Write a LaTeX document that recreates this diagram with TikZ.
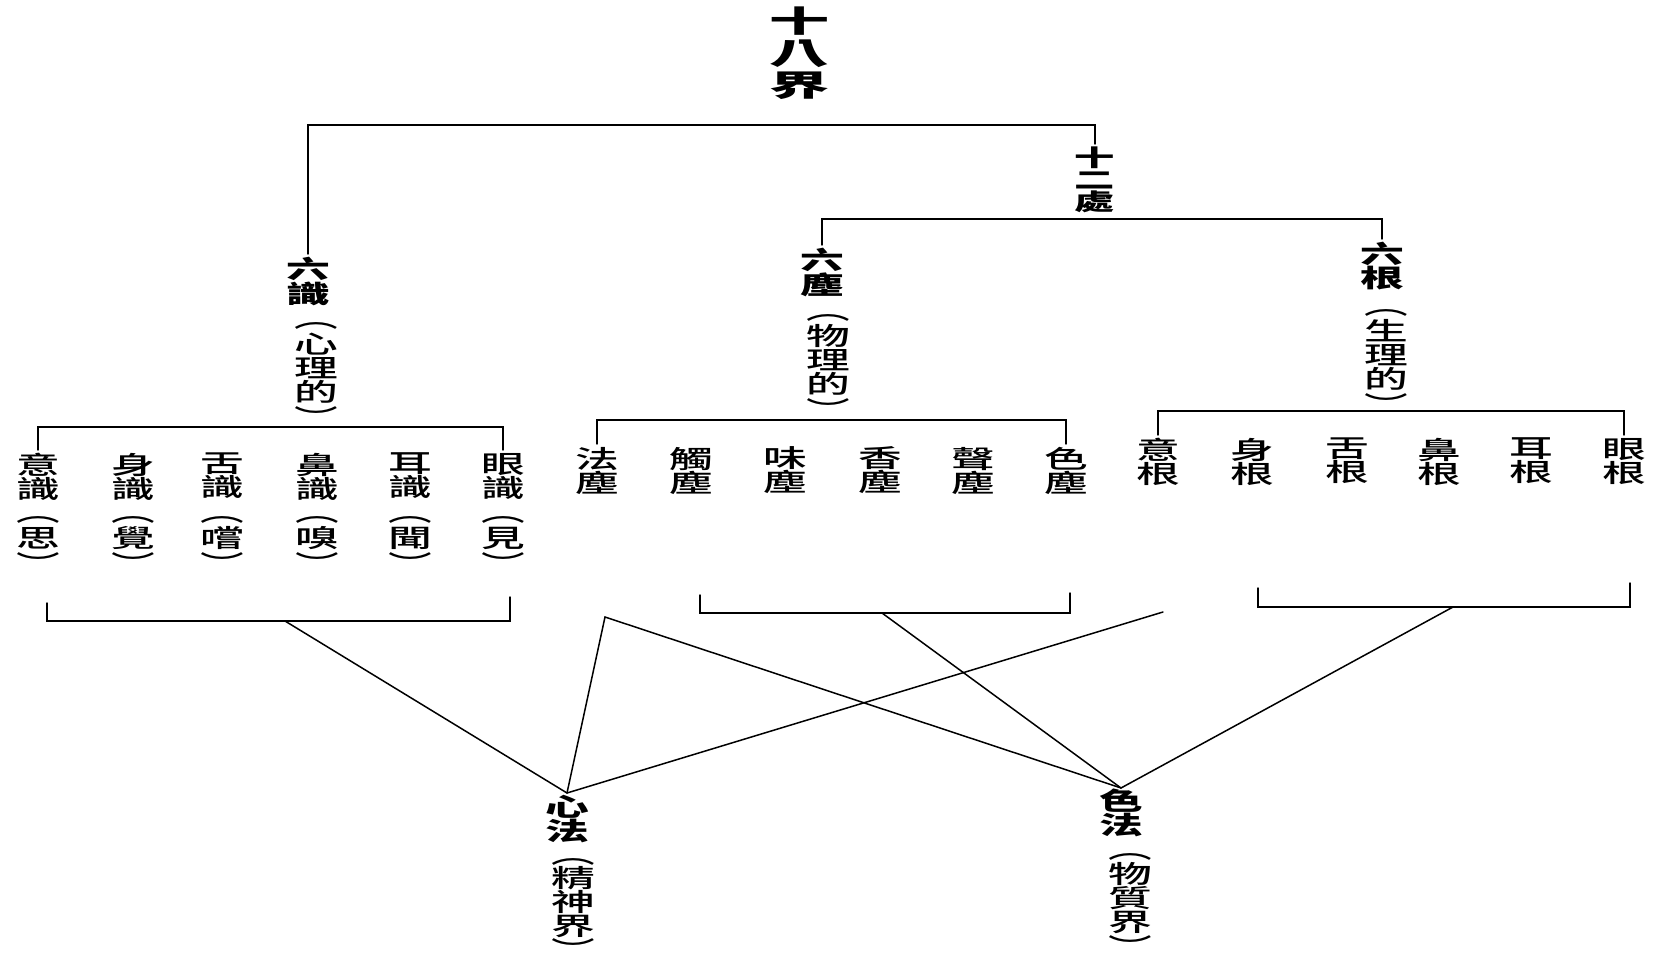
\documentclass[tikz,border=0pt]{standalone}
\usepackage{fontspec}
\newfontfamily\cjk[FakeStretch=1.75, UprightFont={* Medium}]{Noto Sans CJK TC}
\newfontfamily\cjkb[FakeStretch=1.75]{Noto Sans CJK TC}
\newfontfamily\cjkbig[FakeStretch=2.0]{Noto Sans CJK TC}
\newcommand{\pgrp}[2][2pt]{︵\\[#1]#2\\[#1]︶}
\begin{document}
\begin{tikzpicture}[x=1pt,y=-1pt,
  lbl/.style={font=\cjk\fontsize{25}{24}\selectfont, align=center, inner sep=0pt, outer sep=3pt, anchor=north},
  head/.style={lbl, font=\cjkb\bfseries\fontsize{25}{23}\selectfont},
  wire/.style={line width=1.5pt, line cap=round, line join=miter}]
\useasboundingbox (0,0) rectangle (1655,957);
\fill[white] (0,0) rectangle (1655,957);

% top levels
\node[lbl, font=\cjkbig\bfseries\fontsize{30}{32}\selectfont] (n18) at (799,4) {十\\八\\界};
\node[head, font=\cjkb\bfseries\fontsize{23}{22}\selectfont] (n12) at (1095,144) {十\\二\\處};
\node[head] (ls) at (308,254) {六\\識};
\node[lbl] (lsp) at (316,320) {\pgrp{心\\理\\的}};
\node[head] (lc) at (822,245) {六\\塵};
\node[lbl] (lcp) at (828,312) {\pgrp{物\\理\\的}};
\node[head] (lg) at (1382,239) {六\\根};
\node[lbl] (lgp) at (1386,307) {\pgrp{生\\理\\的}};

\coordinate (cA) at (700,125);
\coordinate (cB) at (1100,219);
\draw[wire] (ls.north) |- (cA) -| (n12.north);
\draw[wire] (lc.north) |- (cB) -| (lg.north);

% six consciousnesses
\node[lbl] (s1) at (38,450) {意\\識};
\node[lbl] (s2) at (133,450) {身\\識};
\node[lbl] (s3) at (222,450) {舌\\識};
\node[lbl] (s4) at (317,450) {鼻\\識};
\node[lbl] (s5) at (410,450) {耳\\識};
\node[lbl] (s6) at (503,450) {眼\\識};
\node[lbl] (p1) at (38,514) {\pgrp{思}};
\node[lbl] (p2) at (133,514) {\pgrp{覺}};
\node[lbl] (p3) at (222,514) {\pgrp{嚐}};
\node[lbl] (p4) at (317,514) {\pgrp{嗅}};
\node[lbl] (p5) at (410,514) {\pgrp{聞}};
\node[lbl] (p6) at (503,514) {\pgrp{見}};
\coordinate (cS) at (300,427);
\draw[wire] (s1.north) |- (cS) -| (s6.north);

% six objects
\node[lbl] (c1) at (597,444) {法\\塵};
\node[lbl] (c2) at (691,444) {觸\\塵};
\node[lbl] (c3) at (785,444) {味\\塵};
\node[lbl] (c4) at (880,444) {香\\塵};
\node[lbl] (c5) at (973,444) {聲\\塵};
\node[lbl] (c6) at (1066,444) {色\\塵};
\coordinate (cC) at (800,420);
\draw[wire] (c1.north) |- (cC) -| (c6.north);

% six roots
\node[lbl] (g1) at (1158,435) {意\\根};
\node[lbl] (g2) at (1252,435) {身\\根};
\node[lbl] (g3) at (1347,435) {舌\\根};
\node[lbl] (g4) at (1439,435) {鼻\\根};
\node[lbl] (g5) at (1531,435) {耳\\根};
\node[lbl] (g6) at (1624,435) {眼\\根};
\coordinate (cG) at (1400,411);
\draw[wire] (g1.north) |- (cG) -| (g6.north);

% bottom
\node[head, outer sep=0pt, inner ysep=2pt] (xf) at (567,793) {心\\法};
\node[lbl] (xfp) at (573,856) {\pgrp[0pt]{精\\神\\界}};
\node[head, outer sep=0pt, inner ysep=1pt] (sf) at (1121,788) {色\\法};
\node[lbl] (sfp) at (1130,851) {\pgrp[1pt]{物\\質\\界}};

\coordinate (b1l) at (47,603);
\coordinate (b1m) at (285,621);
\coordinate (b1r) at (510,597);
\coordinate (b2l) at (700,595);
\coordinate (b2m) at (882,613);
\coordinate (b2r) at (1070,593);
\coordinate (b3l) at (1258,588);
\coordinate (b3m) at (1453,607);
\coordinate (b3r) at (1630,583);
\coordinate (peak) at (605,617);
\coordinate (free) at (1163,612);

\draw[wire] (b1l) |- (b1m) -| (b1r);
\draw[wire] (b2l) |- (b2m) -| (b2r);
\draw[wire] (b3l) |- (b3m) -| (b3r);
\draw[wire] (b1m) -- (xf.north);
\draw[wire] (xf.north) -- (peak) -- (sf.north);
\draw[wire] (free) -- (xf.north);
\draw[wire] (b2m) -- (sf.north);
\draw[wire] (b3m) -- (sf.north);
\end{tikzpicture}
\end{document}
